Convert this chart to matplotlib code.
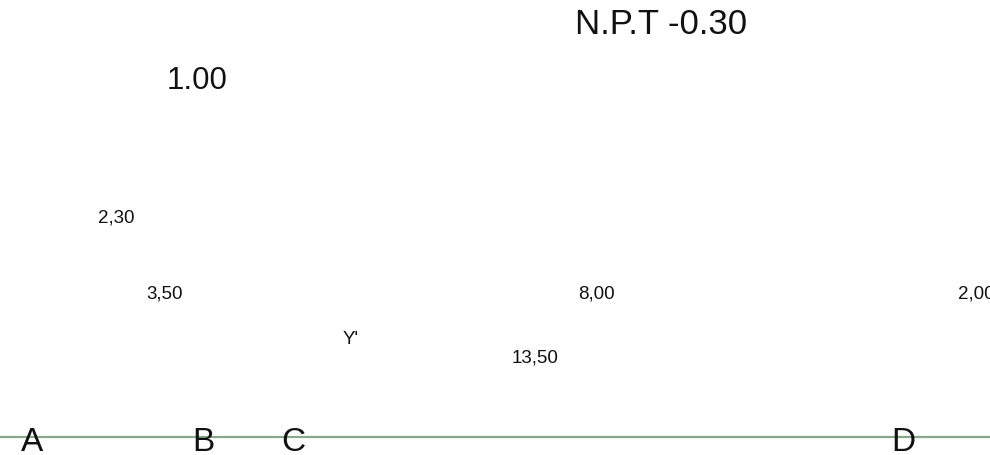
import matplotlib
matplotlib.use("Agg")
import matplotlib.pyplot as plt

plt.rcParams['font.family'] = ['Liberation Sans', 'DejaVu Sans']

# level marks (large text)
level_labels = ['N.P.T -0.30', '1.00']
level_x = [575, 167]
level_y = [34, 89]
level_size = [25, 22.5]

# dimension labels (small text)
dim_labels = ['2,30', '3,50', '8,00', '2,00', "Y'", '13,50']
dim_x = [98, 146, 578, 958, 343, 512]
dim_y = [223, 299, 299, 299, 344, 363]

# grid axes
axis_labels = ['A', 'B', 'C', 'D']
axis_x = [32, 203, 293, 903]
axis_y = 451
line_y = 438

fig = plt.figure(figsize=(9.9, 4.56), dpi=100)
ax = fig.add_axes([0, 0, 1, 1])
ax.set_xlim(0, 990)
ax.set_ylim(456, 0)
ax.axis('off')

# axis line
ax.plot([0, 990], [line_y, line_y], '-', color='#89a889', linewidth=1.6, zorder=1)

for lab, x, y, s in zip(level_labels, level_x, level_y, level_size):
    ax.text(x, y, lab, fontsize=s, ha='left', va='baseline', color='#111111')

for lab, x, y in zip(dim_labels, dim_x, dim_y):
    ax.text(x, y, lab, fontsize=13.5, ha='left', va='baseline', color='#111111')

for lab, x in zip(axis_labels, axis_x):
    ax.text(x, axis_y, lab, fontsize=24, ha='center', va='baseline',
            color='#111111', zorder=2)

fig.savefig('out.png', dpi=100)
